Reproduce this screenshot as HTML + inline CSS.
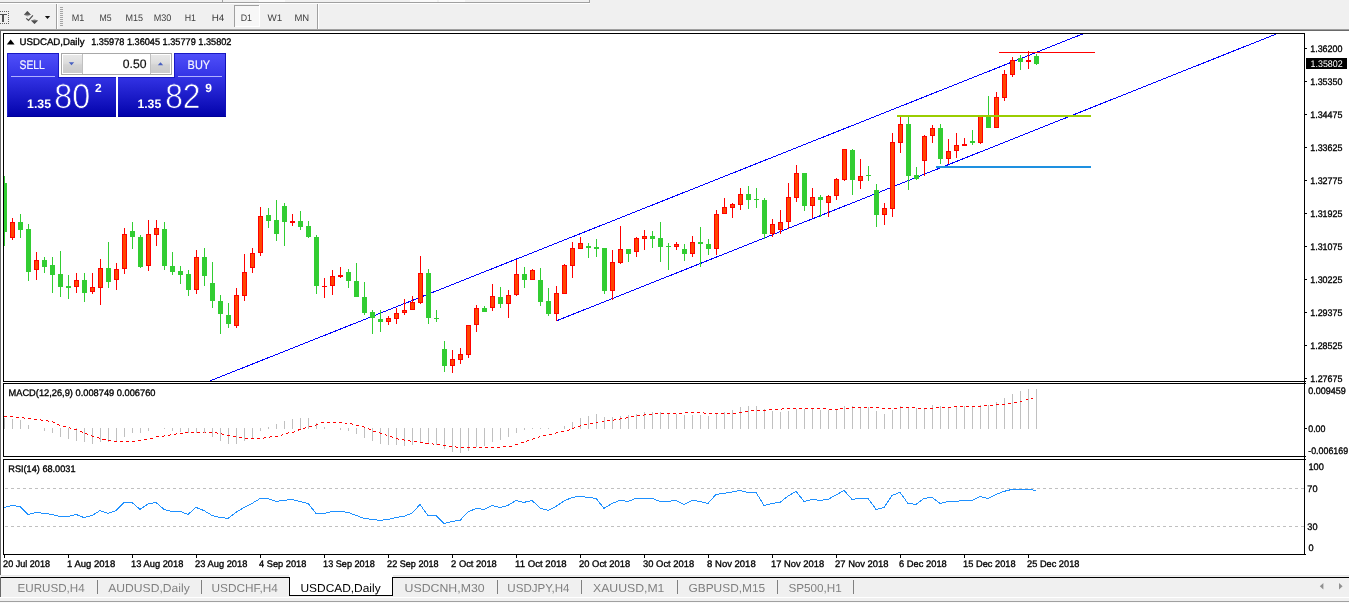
<!DOCTYPE html>
<html><head><meta charset="utf-8"><title>USDCAD,Daily</title>
<style>html,body{margin:0;padding:0;background:#fff;overflow:hidden}svg{display:block}</style>
</head><body>
<svg width="1349" height="603" viewBox="0 0 1349 603" font-family="'Liberation Sans', 'DejaVu Sans', sans-serif" text-rendering="geometricPrecision">
<defs>
<linearGradient id="gb" gradientUnits="userSpaceOnUse" x1="0" y1="53" x2="0" y2="117"><stop offset="0" stop-color="#5050fa"/><stop offset="0.36" stop-color="#3434e6"/><stop offset="1" stop-color="#0202aa"/></linearGradient>
<linearGradient id="gs" x1="0" y1="0" x2="0" y2="1"><stop offset="0" stop-color="#e8e8e8"/><stop offset="0.45" stop-color="#dddddd"/><stop offset="0.55" stop-color="#d3d3d3"/><stop offset="1" stop-color="#cacaca"/></linearGradient>
<clipPath id="cm"><rect x="4" y="34" width="1300" height="347"/></clipPath>
</defs>
<rect x="0" y="0" width="1349" height="603" fill="#ffffff"/>
<rect x="0" y="0" width="1349" height="29" fill="#f0f0f0"/>
<rect x="0" y="2" width="590" height="1" fill="#a0a0a0"/>
<rect x="0" y="3" width="590" height="1" fill="#ffffff"/>
<rect x="589" y="0" width="1" height="3" fill="#a0a0a0"/>
<rect x="222" y="0" width="1" height="2" fill="#a0a0a0"/>
<rect x="259" y="0" width="26" height="2" fill="#fafafa"/>
<rect x="410" y="0" width="27" height="2" fill="#fafafa"/>
<rect x="439" y="0" width="26" height="2" fill="#fafafa"/>
<rect x="0" y="29" width="1349" height="1" fill="#a0a0a0"/>
<rect x="0" y="30" width="1349" height="1" fill="#696969"/>
<rect x="0" y="31" width="1" height="546" fill="#696969"/>
<rect x="56" y="4" width="1" height="25" fill="#a0a0a0"/>
<rect x="57" y="4" width="1" height="25" fill="#ffffff"/>
<rect x="60" y="7" width="3" height="1" fill="#a4a4a4"/>
<rect x="60" y="9" width="3" height="1" fill="#a4a4a4"/>
<rect x="60" y="11" width="3" height="1" fill="#a4a4a4"/>
<rect x="60" y="13" width="3" height="1" fill="#a4a4a4"/>
<rect x="60" y="15" width="3" height="1" fill="#a4a4a4"/>
<rect x="60" y="17" width="3" height="1" fill="#a4a4a4"/>
<rect x="60" y="19" width="3" height="1" fill="#a4a4a4"/>
<rect x="60" y="21" width="3" height="1" fill="#a4a4a4"/>
<rect x="60" y="23" width="3" height="1" fill="#a4a4a4"/>
<rect x="60" y="25" width="3" height="1" fill="#a4a4a4"/>
<rect x="317" y="4" width="1" height="25" fill="#a0a0a0"/>
<rect x="318" y="4" width="1" height="25" fill="#ffffff"/>
<g shape-rendering="crispEdges">
<rect x="0" y="14" width="7" height="1" fill="#505050"/>
<rect x="2" y="14" width="2" height="8" fill="#505050"/>
<rect x="0" y="11" width="1" height="1" fill="#606060"/>
<rect x="0" y="23" width="1" height="1" fill="#606060"/>
<rect x="2" y="11" width="1" height="1" fill="#606060"/>
<rect x="2" y="23" width="1" height="1" fill="#606060"/>
<rect x="4" y="11" width="1" height="1" fill="#606060"/>
<rect x="4" y="23" width="1" height="1" fill="#606060"/>
<rect x="6" y="11" width="1" height="1" fill="#606060"/>
<rect x="6" y="23" width="1" height="1" fill="#606060"/>
<rect x="8" y="11" width="1" height="1" fill="#606060"/>
<rect x="8" y="23" width="1" height="1" fill="#606060"/>
<rect x="8" y="13" width="1" height="1" fill="#606060"/>
<rect x="8" y="15" width="1" height="1" fill="#606060"/>
<rect x="8" y="17" width="1" height="1" fill="#606060"/>
<rect x="8" y="19" width="1" height="1" fill="#606060"/>
<rect x="8" y="21" width="1" height="1" fill="#606060"/>
</g>
<path d="M27.4 11 L30.9 14.8 L27.4 16.4 L23.9 14.8Z" fill="#a0a0a0"/>
<path d="M27.4 11 L30.9 14.8 L23.9 14.8Z" fill="#505050"/>
<path d="M34.5 23.9 L38 20.4 L34.5 19.2 L31 20.4Z" fill="#a0a0a0"/>
<path d="M34.5 23.9 L38 20.4 L31 20.4Z" fill="#505050"/>
<path d="M26.2 18.4 L28.5 20.3 L32.9 15.3" fill="none" stroke="#505050" stroke-width="1.2"/>
<path d="M44.9 16 L50.1 16 L47.5 19Z" fill="#101010"/>
<rect x="234" y="5" width="26" height="22" fill="#f7f7f7"/>
<rect x="234" y="5" width="25" height="1" fill="#a0a0a0"/>
<rect x="234" y="5" width="1" height="22" fill="#a0a0a0"/>
<rect x="259" y="5" width="1" height="22" fill="#ffffff"/>
<rect x="235" y="26" width="25" height="1" fill="#ffffff"/>
<text x="71.8" y="20.6" font-size="9.52" fill="#404040" textLength="12.6" lengthAdjust="spacingAndGlyphs">M1</text>
<text x="99.5" y="20.6" font-size="9.52" fill="#404040" textLength="12.1" lengthAdjust="spacingAndGlyphs">M5</text>
<text x="125.5" y="20.6" font-size="9.52" fill="#404040" textLength="17.6" lengthAdjust="spacingAndGlyphs">M15</text>
<text x="153.7" y="20.6" font-size="9.52" fill="#404040" textLength="17.7" lengthAdjust="spacingAndGlyphs">M30</text>
<text x="184.7" y="20.6" font-size="9.52" fill="#404040" textLength="11.3" lengthAdjust="spacingAndGlyphs">H1</text>
<text x="211.7" y="20.6" font-size="9.52" fill="#404040" textLength="12.6" lengthAdjust="spacingAndGlyphs">H4</text>
<text x="240.7" y="20.6" font-size="9.52" fill="#404040" textLength="11.3" lengthAdjust="spacingAndGlyphs">D1</text>
<text x="267.6" y="20.6" font-size="9.52" fill="#404040" textLength="14.7" lengthAdjust="spacingAndGlyphs">W1</text>
<text x="294.4" y="20.6" font-size="9.52" fill="#404040" textLength="14.8" lengthAdjust="spacingAndGlyphs">MN</text>
<g shape-rendering="crispEdges">
<rect x="3" y="33" width="1302" height="1" fill="#000"/>
<rect x="3" y="33" width="1" height="349" fill="#000"/>
<rect x="3" y="381" width="1302" height="1" fill="#000"/>
<rect x="1304" y="33" width="1" height="522" fill="#000"/>
<rect x="1305" y="381" width="1" height="1" fill="#000"/>
<rect x="1305" y="383" width="1" height="1" fill="#000"/>
<rect x="1305" y="456" width="1" height="1" fill="#000"/>
<rect x="1305" y="459" width="1" height="1" fill="#000"/>
<rect x="1305" y="554" width="1" height="1" fill="#000"/>
<rect x="3" y="383" width="1302" height="1" fill="#000"/>
<rect x="3" y="383" width="1" height="74" fill="#000"/>
<rect x="3" y="456" width="1302" height="1" fill="#000"/>
<rect x="3" y="459" width="1302" height="1" fill="#000"/>
<rect x="3" y="459" width="1" height="96" fill="#000"/>
<rect x="3" y="554" width="1302" height="1" fill="#000"/>
</g>
<g clip-path="url(#cm)" shape-rendering="crispEdges">
<line x1="209" y1="381.3" x2="1082.5" y2="34" stroke="#0000ff" stroke-width="1"/>
<line x1="556" y1="321" x2="1277.5" y2="33.5" stroke="#0000ff" stroke-width="1"/>
<rect x="999" y="52" width="96" height="1" fill="#ff0000"/>
<rect x="936" y="166" width="155" height="2" fill="#1e90e0"/>
<rect x="4" y="176" width="1" height="70" fill="#32cd32"/>
<rect x="2" y="183" width="5" height="49" fill="#32cd32"/>
<rect x="12" y="218" width="1" height="22" fill="#ff0000"/>
<rect x="10" y="222" width="5" height="16" fill="#ff0000"/>
<rect x="11" y="223" width="3" height="14" fill="#ff4500"/>
<rect x="20" y="214" width="1" height="24" fill="#32cd32"/>
<rect x="18" y="222" width="5" height="8" fill="#32cd32"/>
<rect x="28" y="224" width="1" height="57" fill="#32cd32"/>
<rect x="26" y="229" width="5" height="43" fill="#32cd32"/>
<rect x="36" y="252" width="1" height="28" fill="#ff0000"/>
<rect x="34" y="260" width="5" height="10" fill="#ff0000"/>
<rect x="35" y="261" width="3" height="8" fill="#ff4500"/>
<rect x="44" y="257" width="1" height="16" fill="#32cd32"/>
<rect x="42" y="260" width="5" height="7" fill="#32cd32"/>
<rect x="52" y="257" width="1" height="36" fill="#32cd32"/>
<rect x="50" y="265" width="5" height="10" fill="#32cd32"/>
<rect x="60" y="251" width="1" height="46" fill="#32cd32"/>
<rect x="58" y="274" width="5" height="13" fill="#32cd32"/>
<rect x="68" y="275" width="1" height="24" fill="#32cd32"/>
<rect x="66" y="286" width="5" height="2" fill="#32cd32"/>
<rect x="76" y="273" width="1" height="20" fill="#ff0000"/>
<rect x="74" y="280" width="5" height="7" fill="#ff0000"/>
<rect x="75" y="281" width="3" height="5" fill="#ff4500"/>
<rect x="84" y="273" width="1" height="29" fill="#32cd32"/>
<rect x="82" y="280" width="5" height="13" fill="#32cd32"/>
<rect x="92" y="273" width="1" height="21" fill="#ff0000"/>
<rect x="90" y="287" width="5" height="5" fill="#ff0000"/>
<rect x="91" y="288" width="3" height="3" fill="#ff4500"/>
<rect x="100" y="259" width="1" height="46" fill="#ff0000"/>
<rect x="98" y="268" width="5" height="20" fill="#ff0000"/>
<rect x="99" y="269" width="3" height="18" fill="#ff4500"/>
<rect x="108" y="242" width="1" height="46" fill="#32cd32"/>
<rect x="106" y="268" width="5" height="14" fill="#32cd32"/>
<rect x="116" y="263" width="1" height="27" fill="#ff0000"/>
<rect x="114" y="269" width="5" height="11" fill="#ff0000"/>
<rect x="115" y="270" width="3" height="9" fill="#ff4500"/>
<rect x="124" y="228" width="1" height="46" fill="#ff0000"/>
<rect x="122" y="234" width="5" height="35" fill="#ff0000"/>
<rect x="123" y="235" width="3" height="33" fill="#ff4500"/>
<rect x="132" y="222" width="1" height="27" fill="#32cd32"/>
<rect x="130" y="231" width="5" height="6" fill="#32cd32"/>
<rect x="140" y="235" width="1" height="33" fill="#32cd32"/>
<rect x="138" y="237" width="5" height="30" fill="#32cd32"/>
<rect x="148" y="220" width="1" height="51" fill="#ff0000"/>
<rect x="146" y="234" width="5" height="32" fill="#ff0000"/>
<rect x="147" y="235" width="3" height="30" fill="#ff4500"/>
<rect x="156" y="220" width="1" height="26" fill="#ff0000"/>
<rect x="154" y="228" width="5" height="7" fill="#ff0000"/>
<rect x="155" y="229" width="3" height="5" fill="#ff4500"/>
<rect x="164" y="222" width="1" height="48" fill="#32cd32"/>
<rect x="162" y="229" width="5" height="37" fill="#32cd32"/>
<rect x="172" y="252" width="1" height="23" fill="#32cd32"/>
<rect x="170" y="266" width="5" height="6" fill="#32cd32"/>
<rect x="180" y="266" width="1" height="18" fill="#32cd32"/>
<rect x="178" y="271" width="5" height="4" fill="#32cd32"/>
<rect x="188" y="270" width="1" height="26" fill="#32cd32"/>
<rect x="186" y="274" width="5" height="16" fill="#32cd32"/>
<rect x="196" y="250" width="1" height="44" fill="#ff0000"/>
<rect x="194" y="257" width="5" height="33" fill="#ff0000"/>
<rect x="195" y="258" width="3" height="31" fill="#ff4500"/>
<rect x="204" y="248" width="1" height="38" fill="#32cd32"/>
<rect x="202" y="257" width="5" height="19" fill="#32cd32"/>
<rect x="212" y="262" width="1" height="46" fill="#32cd32"/>
<rect x="210" y="283" width="5" height="18" fill="#32cd32"/>
<rect x="220" y="295" width="1" height="39" fill="#32cd32"/>
<rect x="218" y="301" width="5" height="13" fill="#32cd32"/>
<rect x="228" y="303" width="1" height="25" fill="#32cd32"/>
<rect x="226" y="315" width="5" height="9" fill="#32cd32"/>
<rect x="236" y="288" width="1" height="40" fill="#ff0000"/>
<rect x="234" y="295" width="5" height="31" fill="#ff0000"/>
<rect x="235" y="296" width="3" height="29" fill="#ff4500"/>
<rect x="244" y="254" width="1" height="47" fill="#ff0000"/>
<rect x="242" y="272" width="5" height="24" fill="#ff0000"/>
<rect x="243" y="273" width="3" height="22" fill="#ff4500"/>
<rect x="252" y="248" width="1" height="25" fill="#ff0000"/>
<rect x="250" y="253" width="5" height="15" fill="#ff0000"/>
<rect x="251" y="254" width="3" height="13" fill="#ff4500"/>
<rect x="260" y="207" width="1" height="49" fill="#ff0000"/>
<rect x="258" y="216" width="5" height="37" fill="#ff0000"/>
<rect x="259" y="217" width="3" height="35" fill="#ff4500"/>
<rect x="268" y="208" width="1" height="20" fill="#32cd32"/>
<rect x="266" y="215" width="5" height="6" fill="#32cd32"/>
<rect x="276" y="200" width="1" height="41" fill="#32cd32"/>
<rect x="274" y="220" width="5" height="14" fill="#32cd32"/>
<rect x="284" y="203" width="1" height="43" fill="#32cd32"/>
<rect x="282" y="206" width="5" height="16" fill="#32cd32"/>
<rect x="292" y="214" width="1" height="12" fill="#ff0000"/>
<rect x="290" y="221" width="5" height="2" fill="#ff0000"/>
<rect x="300" y="211" width="1" height="19" fill="#32cd32"/>
<rect x="298" y="221" width="5" height="6" fill="#32cd32"/>
<rect x="308" y="221" width="1" height="17" fill="#32cd32"/>
<rect x="306" y="226" width="5" height="11" fill="#32cd32"/>
<rect x="316" y="235" width="1" height="59" fill="#32cd32"/>
<rect x="314" y="237" width="5" height="49" fill="#32cd32"/>
<rect x="324" y="278" width="1" height="20" fill="#ff0000"/>
<rect x="322" y="286" width="5" height="1" fill="#ff0000"/>
<rect x="332" y="270" width="1" height="25" fill="#ff0000"/>
<rect x="330" y="276" width="5" height="10" fill="#ff0000"/>
<rect x="331" y="277" width="3" height="8" fill="#ff4500"/>
<rect x="340" y="267" width="1" height="11" fill="#ff0000"/>
<rect x="338" y="275" width="5" height="2" fill="#ff0000"/>
<rect x="348" y="269" width="1" height="19" fill="#32cd32"/>
<rect x="346" y="272" width="5" height="9" fill="#32cd32"/>
<rect x="356" y="263" width="1" height="34" fill="#32cd32"/>
<rect x="354" y="281" width="5" height="16" fill="#32cd32"/>
<rect x="364" y="282" width="1" height="33" fill="#32cd32"/>
<rect x="362" y="297" width="5" height="16" fill="#32cd32"/>
<rect x="372" y="310" width="1" height="24" fill="#32cd32"/>
<rect x="370" y="312" width="5" height="6" fill="#32cd32"/>
<rect x="380" y="310" width="1" height="22" fill="#32cd32"/>
<rect x="378" y="319" width="5" height="3" fill="#32cd32"/>
<rect x="388" y="316" width="1" height="9" fill="#ff0000"/>
<rect x="386" y="318" width="5" height="4" fill="#ff0000"/>
<rect x="387" y="319" width="3" height="2" fill="#ff4500"/>
<rect x="396" y="308" width="1" height="16" fill="#ff0000"/>
<rect x="394" y="313" width="5" height="6" fill="#ff0000"/>
<rect x="395" y="314" width="3" height="4" fill="#ff4500"/>
<rect x="404" y="299" width="1" height="16" fill="#ff0000"/>
<rect x="402" y="310" width="5" height="3" fill="#ff0000"/>
<rect x="403" y="311" width="3" height="1" fill="#ff4500"/>
<rect x="412" y="296" width="1" height="14" fill="#ff0000"/>
<rect x="410" y="302" width="5" height="8" fill="#ff0000"/>
<rect x="411" y="303" width="3" height="6" fill="#ff4500"/>
<rect x="420" y="256" width="1" height="48" fill="#ff0000"/>
<rect x="418" y="273" width="5" height="30" fill="#ff0000"/>
<rect x="419" y="274" width="3" height="28" fill="#ff4500"/>
<rect x="428" y="269" width="1" height="55" fill="#32cd32"/>
<rect x="426" y="273" width="5" height="45" fill="#32cd32"/>
<rect x="436" y="310" width="1" height="12" fill="#32cd32"/>
<rect x="434" y="318" width="5" height="1" fill="#32cd32"/>
<rect x="444" y="341" width="1" height="31" fill="#32cd32"/>
<rect x="442" y="349" width="5" height="17" fill="#32cd32"/>
<rect x="452" y="350" width="1" height="23" fill="#ff0000"/>
<rect x="450" y="359" width="5" height="7" fill="#ff0000"/>
<rect x="451" y="360" width="3" height="5" fill="#ff4500"/>
<rect x="460" y="348" width="1" height="16" fill="#ff0000"/>
<rect x="458" y="354" width="5" height="6" fill="#ff0000"/>
<rect x="459" y="355" width="3" height="4" fill="#ff4500"/>
<rect x="468" y="325" width="1" height="33" fill="#ff0000"/>
<rect x="466" y="325" width="5" height="30" fill="#ff0000"/>
<rect x="467" y="326" width="3" height="28" fill="#ff4500"/>
<rect x="476" y="305" width="1" height="27" fill="#ff0000"/>
<rect x="474" y="308" width="5" height="17" fill="#ff0000"/>
<rect x="475" y="309" width="3" height="15" fill="#ff4500"/>
<rect x="484" y="306" width="1" height="6" fill="#32cd32"/>
<rect x="482" y="308" width="5" height="4" fill="#32cd32"/>
<rect x="492" y="284" width="1" height="27" fill="#ff0000"/>
<rect x="490" y="296" width="5" height="12" fill="#ff0000"/>
<rect x="491" y="297" width="3" height="10" fill="#ff4500"/>
<rect x="500" y="287" width="1" height="21" fill="#32cd32"/>
<rect x="498" y="297" width="5" height="7" fill="#32cd32"/>
<rect x="508" y="290" width="1" height="28" fill="#ff0000"/>
<rect x="506" y="295" width="5" height="9" fill="#ff0000"/>
<rect x="507" y="296" width="3" height="7" fill="#ff4500"/>
<rect x="516" y="260" width="1" height="36" fill="#ff0000"/>
<rect x="514" y="274" width="5" height="21" fill="#ff0000"/>
<rect x="515" y="275" width="3" height="19" fill="#ff4500"/>
<rect x="524" y="267" width="1" height="21" fill="#32cd32"/>
<rect x="522" y="274" width="5" height="6" fill="#32cd32"/>
<rect x="532" y="269" width="1" height="11" fill="#ff0000"/>
<rect x="530" y="270" width="5" height="10" fill="#ff0000"/>
<rect x="531" y="271" width="3" height="8" fill="#ff4500"/>
<rect x="540" y="268" width="1" height="38" fill="#32cd32"/>
<rect x="538" y="280" width="5" height="22" fill="#32cd32"/>
<rect x="548" y="288" width="1" height="28" fill="#32cd32"/>
<rect x="546" y="301" width="5" height="13" fill="#32cd32"/>
<rect x="556" y="286" width="1" height="35" fill="#ff0000"/>
<rect x="554" y="293" width="5" height="21" fill="#ff0000"/>
<rect x="555" y="294" width="3" height="19" fill="#ff4500"/>
<rect x="564" y="264" width="1" height="30" fill="#ff0000"/>
<rect x="562" y="265" width="5" height="29" fill="#ff0000"/>
<rect x="563" y="266" width="3" height="27" fill="#ff4500"/>
<rect x="572" y="242" width="1" height="36" fill="#ff0000"/>
<rect x="570" y="248" width="5" height="18" fill="#ff0000"/>
<rect x="571" y="249" width="3" height="16" fill="#ff4500"/>
<rect x="580" y="237" width="1" height="12" fill="#ff0000"/>
<rect x="578" y="243" width="5" height="6" fill="#ff0000"/>
<rect x="579" y="244" width="3" height="4" fill="#ff4500"/>
<rect x="588" y="243" width="1" height="15" fill="#32cd32"/>
<rect x="586" y="246" width="5" height="2" fill="#32cd32"/>
<rect x="596" y="239" width="1" height="18" fill="#32cd32"/>
<rect x="594" y="247" width="5" height="2" fill="#32cd32"/>
<rect x="604" y="248" width="1" height="46" fill="#32cd32"/>
<rect x="602" y="248" width="5" height="43" fill="#32cd32"/>
<rect x="612" y="250" width="1" height="50" fill="#ff0000"/>
<rect x="610" y="262" width="5" height="29" fill="#ff0000"/>
<rect x="611" y="263" width="3" height="27" fill="#ff4500"/>
<rect x="620" y="226" width="1" height="38" fill="#ff0000"/>
<rect x="618" y="249" width="5" height="14" fill="#ff0000"/>
<rect x="619" y="250" width="3" height="12" fill="#ff4500"/>
<rect x="628" y="249" width="1" height="13" fill="#32cd32"/>
<rect x="626" y="249" width="5" height="5" fill="#32cd32"/>
<rect x="636" y="237" width="1" height="20" fill="#ff0000"/>
<rect x="634" y="238" width="5" height="14" fill="#ff0000"/>
<rect x="635" y="239" width="3" height="12" fill="#ff4500"/>
<rect x="644" y="230" width="1" height="20" fill="#ff0000"/>
<rect x="642" y="236" width="5" height="3" fill="#ff0000"/>
<rect x="643" y="237" width="3" height="1" fill="#ff4500"/>
<rect x="652" y="231" width="1" height="17" fill="#32cd32"/>
<rect x="650" y="236" width="5" height="3" fill="#32cd32"/>
<rect x="660" y="222" width="1" height="40" fill="#32cd32"/>
<rect x="658" y="238" width="5" height="9" fill="#32cd32"/>
<rect x="668" y="243" width="1" height="27" fill="#32cd32"/>
<rect x="666" y="246" width="5" height="1" fill="#32cd32"/>
<rect x="676" y="242" width="1" height="8" fill="#ff0000"/>
<rect x="674" y="244" width="5" height="3" fill="#ff0000"/>
<rect x="675" y="245" width="3" height="1" fill="#ff4500"/>
<rect x="684" y="244" width="1" height="17" fill="#32cd32"/>
<rect x="682" y="249" width="5" height="5" fill="#32cd32"/>
<rect x="692" y="236" width="1" height="21" fill="#ff0000"/>
<rect x="690" y="242" width="5" height="12" fill="#ff0000"/>
<rect x="691" y="243" width="3" height="10" fill="#ff4500"/>
<rect x="700" y="227" width="1" height="40" fill="#32cd32"/>
<rect x="698" y="242" width="5" height="2" fill="#32cd32"/>
<rect x="708" y="239" width="1" height="16" fill="#32cd32"/>
<rect x="706" y="244" width="5" height="5" fill="#32cd32"/>
<rect x="716" y="210" width="1" height="45" fill="#ff0000"/>
<rect x="714" y="214" width="5" height="35" fill="#ff0000"/>
<rect x="715" y="215" width="3" height="33" fill="#ff4500"/>
<rect x="724" y="198" width="1" height="16" fill="#ff0000"/>
<rect x="722" y="207" width="5" height="7" fill="#ff0000"/>
<rect x="723" y="208" width="3" height="5" fill="#ff4500"/>
<rect x="732" y="203" width="1" height="15" fill="#ff0000"/>
<rect x="730" y="204" width="5" height="4" fill="#ff0000"/>
<rect x="731" y="205" width="3" height="2" fill="#ff4500"/>
<rect x="740" y="188" width="1" height="22" fill="#ff0000"/>
<rect x="738" y="194" width="5" height="11" fill="#ff0000"/>
<rect x="739" y="195" width="3" height="9" fill="#ff4500"/>
<rect x="748" y="186" width="1" height="23" fill="#32cd32"/>
<rect x="746" y="194" width="5" height="6" fill="#32cd32"/>
<rect x="756" y="188" width="1" height="20" fill="#32cd32"/>
<rect x="754" y="199" width="5" height="1" fill="#32cd32"/>
<rect x="764" y="198" width="1" height="41" fill="#32cd32"/>
<rect x="762" y="200" width="5" height="34" fill="#32cd32"/>
<rect x="772" y="219" width="1" height="18" fill="#ff0000"/>
<rect x="770" y="224" width="5" height="10" fill="#ff0000"/>
<rect x="771" y="225" width="3" height="8" fill="#ff4500"/>
<rect x="780" y="210" width="1" height="24" fill="#ff0000"/>
<rect x="778" y="222" width="5" height="8" fill="#ff0000"/>
<rect x="779" y="223" width="3" height="6" fill="#ff4500"/>
<rect x="788" y="183" width="1" height="46" fill="#ff0000"/>
<rect x="786" y="197" width="5" height="25" fill="#ff0000"/>
<rect x="787" y="198" width="3" height="23" fill="#ff4500"/>
<rect x="796" y="165" width="1" height="37" fill="#ff0000"/>
<rect x="794" y="173" width="5" height="25" fill="#ff0000"/>
<rect x="795" y="174" width="3" height="23" fill="#ff4500"/>
<rect x="804" y="173" width="1" height="38" fill="#32cd32"/>
<rect x="802" y="173" width="5" height="33" fill="#32cd32"/>
<rect x="812" y="188" width="1" height="30" fill="#ff0000"/>
<rect x="810" y="197" width="5" height="9" fill="#ff0000"/>
<rect x="811" y="198" width="3" height="7" fill="#ff4500"/>
<rect x="820" y="195" width="1" height="22" fill="#32cd32"/>
<rect x="818" y="197" width="5" height="3" fill="#32cd32"/>
<rect x="828" y="195" width="1" height="22" fill="#ff0000"/>
<rect x="826" y="196" width="5" height="7" fill="#ff0000"/>
<rect x="827" y="197" width="3" height="5" fill="#ff4500"/>
<rect x="836" y="178" width="1" height="22" fill="#ff0000"/>
<rect x="834" y="179" width="5" height="17" fill="#ff0000"/>
<rect x="835" y="180" width="3" height="15" fill="#ff4500"/>
<rect x="844" y="149" width="1" height="32" fill="#ff0000"/>
<rect x="842" y="149" width="5" height="31" fill="#ff0000"/>
<rect x="843" y="150" width="3" height="29" fill="#ff4500"/>
<rect x="852" y="149" width="1" height="46" fill="#32cd32"/>
<rect x="850" y="150" width="5" height="30" fill="#32cd32"/>
<rect x="860" y="159" width="1" height="30" fill="#ff0000"/>
<rect x="858" y="176" width="5" height="5" fill="#ff0000"/>
<rect x="859" y="177" width="3" height="3" fill="#ff4500"/>
<rect x="868" y="166" width="1" height="15" fill="#32cd32"/>
<rect x="866" y="175" width="5" height="1" fill="#32cd32"/>
<rect x="876" y="184" width="1" height="43" fill="#32cd32"/>
<rect x="874" y="190" width="5" height="25" fill="#32cd32"/>
<rect x="884" y="203" width="1" height="22" fill="#ff0000"/>
<rect x="882" y="208" width="5" height="7" fill="#ff0000"/>
<rect x="883" y="209" width="3" height="5" fill="#ff4500"/>
<rect x="892" y="133" width="1" height="84" fill="#ff0000"/>
<rect x="890" y="142" width="5" height="67" fill="#ff0000"/>
<rect x="891" y="143" width="3" height="65" fill="#ff4500"/>
<rect x="900" y="116" width="1" height="37" fill="#ff0000"/>
<rect x="898" y="124" width="5" height="19" fill="#ff0000"/>
<rect x="899" y="125" width="3" height="17" fill="#ff4500"/>
<rect x="908" y="116" width="1" height="74" fill="#32cd32"/>
<rect x="906" y="124" width="5" height="52" fill="#32cd32"/>
<rect x="916" y="167" width="1" height="13" fill="#32cd32"/>
<rect x="914" y="175" width="5" height="4" fill="#32cd32"/>
<rect x="924" y="135" width="1" height="41" fill="#ff0000"/>
<rect x="922" y="136" width="5" height="25" fill="#ff0000"/>
<rect x="923" y="137" width="3" height="23" fill="#ff4500"/>
<rect x="932" y="125" width="1" height="18" fill="#ff0000"/>
<rect x="930" y="128" width="5" height="8" fill="#ff0000"/>
<rect x="931" y="129" width="3" height="6" fill="#ff4500"/>
<rect x="940" y="124" width="1" height="40" fill="#32cd32"/>
<rect x="938" y="128" width="5" height="31" fill="#32cd32"/>
<rect x="948" y="139" width="1" height="25" fill="#ff0000"/>
<rect x="946" y="151" width="5" height="8" fill="#ff0000"/>
<rect x="947" y="152" width="3" height="6" fill="#ff4500"/>
<rect x="956" y="133" width="1" height="25" fill="#ff0000"/>
<rect x="954" y="145" width="5" height="6" fill="#ff0000"/>
<rect x="955" y="146" width="3" height="4" fill="#ff4500"/>
<rect x="964" y="138" width="1" height="8" fill="#ff0000"/>
<rect x="962" y="144" width="5" height="2" fill="#ff0000"/>
<rect x="972" y="130" width="1" height="15" fill="#32cd32"/>
<rect x="970" y="141" width="5" height="2" fill="#32cd32"/>
<rect x="980" y="115" width="1" height="29" fill="#ff0000"/>
<rect x="978" y="116" width="5" height="27" fill="#ff0000"/>
<rect x="979" y="117" width="3" height="25" fill="#ff4500"/>
<rect x="988" y="96" width="1" height="32" fill="#32cd32"/>
<rect x="986" y="116" width="5" height="12" fill="#32cd32"/>
<rect x="996" y="92" width="1" height="36" fill="#ff0000"/>
<rect x="994" y="97" width="5" height="31" fill="#ff0000"/>
<rect x="995" y="98" width="3" height="29" fill="#ff4500"/>
<rect x="1004" y="70" width="1" height="31" fill="#ff0000"/>
<rect x="1002" y="74" width="5" height="24" fill="#ff0000"/>
<rect x="1003" y="75" width="3" height="22" fill="#ff4500"/>
<rect x="1012" y="57" width="1" height="20" fill="#ff0000"/>
<rect x="1010" y="60" width="5" height="15" fill="#ff0000"/>
<rect x="1011" y="61" width="3" height="13" fill="#ff4500"/>
<rect x="1020" y="55" width="1" height="15" fill="#32cd32"/>
<rect x="1018" y="58" width="5" height="4" fill="#32cd32"/>
<rect x="1028" y="51" width="1" height="18" fill="#ff0000"/>
<rect x="1026" y="60" width="5" height="2" fill="#ff0000"/>
<rect x="1036" y="54" width="1" height="11" fill="#32cd32"/>
<rect x="1034" y="56" width="5" height="8" fill="#32cd32"/>
<rect x="897" y="115" width="194" height="2" fill="#9acd00"/>
</g>
<rect x="7" y="53" width="219" height="64" fill="url(#gb)"/>
<rect x="7" y="53" width="52" height="1" fill="#1818c4"/>
<rect x="174" y="53" width="52" height="1" fill="#1818c4"/>
<rect x="7" y="53" width="1" height="64" fill="#2020d0"/>
<rect x="225" y="53" width="1" height="64" fill="#1010b8"/>
<rect x="58" y="53" width="1" height="25" fill="#1818c4"/>
<rect x="174" y="53" width="1" height="25" fill="#1818c4"/>
<rect x="58" y="77" width="117" height="1" fill="#1818c4"/>
<rect x="7" y="116" width="219" height="1" fill="#000098"/>
<rect x="59" y="53" width="115" height="24" fill="#ffffff"/>
<rect x="116" y="77" width="2" height="40" fill="#ffffff"/>
<rect x="11" y="76" width="44" height="1" fill="#b0b0ff"/>
<rect x="178" y="76" width="44" height="1" fill="#b0b0ff"/>
<rect x="61.5" y="53.5" width="110" height="21" fill="#ffffff" stroke="#a8a8a8"/>
<rect x="63" y="55" width="19" height="18" fill="url(#gs)"/>
<rect x="151" y="55" width="19" height="18" fill="url(#gs)"/>
<rect x="82" y="54" width="1" height="20" fill="#c0c0c0"/>
<rect x="150" y="54" width="1" height="20" fill="#c0c0c0"/>
<path d="M68.8 62.2 L74.2 62.2 L71.5 65.2Z" fill="#4860c0"/>
<path d="M157.8 65.2 L163.2 65.2 L160.5 62.2Z" fill="#4860c0"/>
<text x="19.5" y="68.9" font-size="12.4" fill="#f4f4ff" textLength="25.3" lengthAdjust="spacingAndGlyphs" stroke="#f4f4ff" stroke-width="0.2">SELL</text>
<text x="187.6" y="68.9" font-size="12.4" fill="#f4f4ff" textLength="22.5" lengthAdjust="spacingAndGlyphs" stroke="#f4f4ff" stroke-width="0.2">BUY</text>
<text x="146.5" y="68.2" font-size="12.2" fill="#101010" text-anchor="end" stroke="#101010" stroke-width="0.2">0.50</text>
<text x="27.1" y="107.5" font-size="12.2" fill="#fff" textLength="24" lengthAdjust="spacingAndGlyphs" font-weight="bold">1.35</text>
<text x="54.25" y="107.9" font-size="34.6" fill="#fff" textLength="36" lengthAdjust="spacingAndGlyphs" stroke="url(#gb)" stroke-width="0.7">80</text>
<text x="95" y="92.3" font-size="12.0" fill="#fff" font-weight="bold">2</text>
<text x="137.4" y="107.5" font-size="12.2" fill="#fff" textLength="23.8" lengthAdjust="spacingAndGlyphs" font-weight="bold">1.35</text>
<text x="165.15" y="107.9" font-size="34.6" fill="#fff" textLength="35.4" lengthAdjust="spacingAndGlyphs" stroke="url(#gb)" stroke-width="0.7">82</text>
<text x="205.3" y="92.3" font-size="12.0" fill="#fff" font-weight="bold">9</text>
<path d="M6.8 44.4 L14.6 44.4 L10.7 39.6Z" fill="#000"/>
<text x="19.5" y="45" font-size="9.63" fill="#000" textLength="65" lengthAdjust="spacingAndGlyphs" stroke="#000" stroke-width="0.32">USDCAD,Daily</text>
<text x="91.2" y="45" font-size="9.63" fill="#000" textLength="140.3" lengthAdjust="spacingAndGlyphs" stroke="#000" stroke-width="0.32">1.35978 1.36045 1.35779 1.35802</text>
<g shape-rendering="crispEdges">
<rect x="1305" y="48" width="2" height="1" fill="#000"/>
<rect x="1305" y="81" width="2" height="1" fill="#000"/>
<rect x="1305" y="114" width="2" height="1" fill="#000"/>
<rect x="1305" y="147" width="2" height="1" fill="#000"/>
<rect x="1305" y="180" width="2" height="1" fill="#000"/>
<rect x="1305" y="213" width="2" height="1" fill="#000"/>
<rect x="1305" y="246" width="2" height="1" fill="#000"/>
<rect x="1305" y="279" width="2" height="1" fill="#000"/>
<rect x="1305" y="312" width="2" height="1" fill="#000"/>
<rect x="1305" y="345" width="2" height="1" fill="#000"/>
<rect x="1305" y="378" width="2" height="1" fill="#000"/>
</g>
<text x="1310.2" y="51.7" font-size="9.52" fill="#000" textLength="32.3" lengthAdjust="spacingAndGlyphs" stroke="#000" stroke-width="0.32">1.36200</text>
<text x="1310.2" y="84.7" font-size="9.52" fill="#000" textLength="32.3" lengthAdjust="spacingAndGlyphs" stroke="#000" stroke-width="0.32">1.35350</text>
<text x="1310.2" y="117.7" font-size="9.52" fill="#000" textLength="32.3" lengthAdjust="spacingAndGlyphs" stroke="#000" stroke-width="0.32">1.34475</text>
<text x="1310.2" y="150.7" font-size="9.52" fill="#000" textLength="32.3" lengthAdjust="spacingAndGlyphs" stroke="#000" stroke-width="0.32">1.33625</text>
<text x="1310.2" y="183.7" font-size="9.52" fill="#000" textLength="32.3" lengthAdjust="spacingAndGlyphs" stroke="#000" stroke-width="0.32">1.32775</text>
<text x="1310.2" y="216.7" font-size="9.52" fill="#000" textLength="32.3" lengthAdjust="spacingAndGlyphs" stroke="#000" stroke-width="0.32">1.31925</text>
<text x="1310.2" y="249.7" font-size="9.52" fill="#000" textLength="32.3" lengthAdjust="spacingAndGlyphs" stroke="#000" stroke-width="0.32">1.31075</text>
<text x="1310.2" y="282.7" font-size="9.52" fill="#000" textLength="32.3" lengthAdjust="spacingAndGlyphs" stroke="#000" stroke-width="0.32">1.30225</text>
<text x="1310.2" y="315.7" font-size="9.52" fill="#000" textLength="32.3" lengthAdjust="spacingAndGlyphs" stroke="#000" stroke-width="0.32">1.29375</text>
<text x="1310.2" y="348.7" font-size="9.52" fill="#000" textLength="32.3" lengthAdjust="spacingAndGlyphs" stroke="#000" stroke-width="0.32">1.28525</text>
<text x="1310.2" y="381.7" font-size="9.52" fill="#000" textLength="32.3" lengthAdjust="spacingAndGlyphs" stroke="#000" stroke-width="0.32">1.27675</text>
<rect x="1306" y="58" width="41" height="11" fill="#000"/>
<text x="1310.5" y="67" font-size="9.52" fill="#fff" textLength="32.2" lengthAdjust="spacingAndGlyphs">1.35802</text>
<g shape-rendering="crispEdges">
<rect x="12" y="419" width="1" height="10" fill="#c0c0c0"/>
<rect x="20" y="420" width="1" height="9" fill="#c0c0c0"/>
<rect x="28" y="425" width="1" height="4" fill="#c0c0c0"/>
<rect x="44" y="428" width="1" height="3" fill="#c0c0c0"/>
<rect x="52" y="428" width="1" height="5" fill="#c0c0c0"/>
<rect x="60" y="428" width="1" height="9" fill="#c0c0c0"/>
<rect x="68" y="428" width="1" height="11" fill="#c0c0c0"/>
<rect x="76" y="428" width="1" height="13" fill="#c0c0c0"/>
<rect x="84" y="428" width="1" height="14" fill="#c0c0c0"/>
<rect x="92" y="428" width="1" height="16" fill="#c0c0c0"/>
<rect x="100" y="428" width="1" height="14" fill="#c0c0c0"/>
<rect x="108" y="428" width="1" height="14" fill="#c0c0c0"/>
<rect x="116" y="428" width="1" height="13" fill="#c0c0c0"/>
<rect x="124" y="428" width="1" height="9" fill="#c0c0c0"/>
<rect x="132" y="428" width="1" height="5" fill="#c0c0c0"/>
<rect x="140" y="428" width="1" height="5" fill="#c0c0c0"/>
<rect x="148" y="428" width="1" height="3" fill="#c0c0c0"/>
<rect x="164" y="428" width="1" height="1" fill="#c0c0c0"/>
<rect x="172" y="428" width="1" height="3" fill="#c0c0c0"/>
<rect x="180" y="428" width="1" height="4" fill="#c0c0c0"/>
<rect x="188" y="428" width="1" height="5" fill="#c0c0c0"/>
<rect x="196" y="428" width="1" height="5" fill="#c0c0c0"/>
<rect x="204" y="428" width="1" height="5" fill="#c0c0c0"/>
<rect x="212" y="428" width="1" height="9" fill="#c0c0c0"/>
<rect x="220" y="428" width="1" height="13" fill="#c0c0c0"/>
<rect x="228" y="428" width="1" height="16" fill="#c0c0c0"/>
<rect x="236" y="428" width="1" height="16" fill="#c0c0c0"/>
<rect x="244" y="428" width="1" height="13" fill="#c0c0c0"/>
<rect x="252" y="428" width="1" height="10" fill="#c0c0c0"/>
<rect x="260" y="428" width="1" height="3" fill="#c0c0c0"/>
<rect x="268" y="427" width="1" height="2" fill="#c0c0c0"/>
<rect x="276" y="424" width="1" height="5" fill="#c0c0c0"/>
<rect x="284" y="421" width="1" height="8" fill="#c0c0c0"/>
<rect x="292" y="419" width="1" height="10" fill="#c0c0c0"/>
<rect x="300" y="418" width="1" height="11" fill="#c0c0c0"/>
<rect x="308" y="418" width="1" height="11" fill="#c0c0c0"/>
<rect x="316" y="423" width="1" height="6" fill="#c0c0c0"/>
<rect x="324" y="427" width="1" height="2" fill="#c0c0c0"/>
<rect x="340" y="428" width="1" height="2" fill="#c0c0c0"/>
<rect x="348" y="428" width="1" height="3" fill="#c0c0c0"/>
<rect x="356" y="428" width="1" height="6" fill="#c0c0c0"/>
<rect x="364" y="428" width="1" height="10" fill="#c0c0c0"/>
<rect x="372" y="428" width="1" height="13" fill="#c0c0c0"/>
<rect x="380" y="428" width="1" height="16" fill="#c0c0c0"/>
<rect x="388" y="428" width="1" height="17" fill="#c0c0c0"/>
<rect x="396" y="428" width="1" height="17" fill="#c0c0c0"/>
<rect x="404" y="428" width="1" height="18" fill="#c0c0c0"/>
<rect x="412" y="428" width="1" height="17" fill="#c0c0c0"/>
<rect x="420" y="428" width="1" height="14" fill="#c0c0c0"/>
<rect x="428" y="428" width="1" height="16" fill="#c0c0c0"/>
<rect x="436" y="428" width="1" height="17" fill="#c0c0c0"/>
<rect x="444" y="428" width="1" height="21" fill="#c0c0c0"/>
<rect x="452" y="428" width="1" height="24" fill="#c0c0c0"/>
<rect x="460" y="428" width="1" height="25" fill="#c0c0c0"/>
<rect x="468" y="428" width="1" height="23" fill="#c0c0c0"/>
<rect x="476" y="428" width="1" height="19" fill="#c0c0c0"/>
<rect x="484" y="428" width="1" height="18" fill="#c0c0c0"/>
<rect x="492" y="428" width="1" height="14" fill="#c0c0c0"/>
<rect x="500" y="428" width="1" height="12" fill="#c0c0c0"/>
<rect x="508" y="428" width="1" height="9" fill="#c0c0c0"/>
<rect x="516" y="428" width="1" height="5" fill="#c0c0c0"/>
<rect x="524" y="428" width="1" height="2" fill="#c0c0c0"/>
<rect x="532" y="428" width="1" height="1" fill="#c0c0c0"/>
<rect x="540" y="428" width="1" height="1" fill="#c0c0c0"/>
<rect x="548" y="428" width="1" height="1" fill="#c0c0c0"/>
<rect x="564" y="426" width="1" height="3" fill="#c0c0c0"/>
<rect x="572" y="422" width="1" height="7" fill="#c0c0c0"/>
<rect x="580" y="418" width="1" height="11" fill="#c0c0c0"/>
<rect x="588" y="416" width="1" height="13" fill="#c0c0c0"/>
<rect x="596" y="414" width="1" height="15" fill="#c0c0c0"/>
<rect x="604" y="417" width="1" height="12" fill="#c0c0c0"/>
<rect x="612" y="417" width="1" height="12" fill="#c0c0c0"/>
<rect x="620" y="416" width="1" height="13" fill="#c0c0c0"/>
<rect x="628" y="415" width="1" height="14" fill="#c0c0c0"/>
<rect x="636" y="414" width="1" height="15" fill="#c0c0c0"/>
<rect x="644" y="412" width="1" height="17" fill="#c0c0c0"/>
<rect x="652" y="412" width="1" height="17" fill="#c0c0c0"/>
<rect x="660" y="412" width="1" height="17" fill="#c0c0c0"/>
<rect x="668" y="413" width="1" height="16" fill="#c0c0c0"/>
<rect x="676" y="414" width="1" height="15" fill="#c0c0c0"/>
<rect x="684" y="415" width="1" height="14" fill="#c0c0c0"/>
<rect x="692" y="415" width="1" height="14" fill="#c0c0c0"/>
<rect x="700" y="415" width="1" height="14" fill="#c0c0c0"/>
<rect x="708" y="416" width="1" height="13" fill="#c0c0c0"/>
<rect x="716" y="414" width="1" height="15" fill="#c0c0c0"/>
<rect x="724" y="412" width="1" height="17" fill="#c0c0c0"/>
<rect x="732" y="410" width="1" height="19" fill="#c0c0c0"/>
<rect x="740" y="407" width="1" height="22" fill="#c0c0c0"/>
<rect x="748" y="406" width="1" height="23" fill="#c0c0c0"/>
<rect x="756" y="406" width="1" height="23" fill="#c0c0c0"/>
<rect x="764" y="409" width="1" height="20" fill="#c0c0c0"/>
<rect x="772" y="411" width="1" height="18" fill="#c0c0c0"/>
<rect x="780" y="412" width="1" height="17" fill="#c0c0c0"/>
<rect x="788" y="411" width="1" height="18" fill="#c0c0c0"/>
<rect x="796" y="409" width="1" height="20" fill="#c0c0c0"/>
<rect x="804" y="409" width="1" height="20" fill="#c0c0c0"/>
<rect x="812" y="409" width="1" height="20" fill="#c0c0c0"/>
<rect x="820" y="410" width="1" height="19" fill="#c0c0c0"/>
<rect x="828" y="410" width="1" height="19" fill="#c0c0c0"/>
<rect x="836" y="409" width="1" height="20" fill="#c0c0c0"/>
<rect x="844" y="406" width="1" height="23" fill="#c0c0c0"/>
<rect x="852" y="406" width="1" height="23" fill="#c0c0c0"/>
<rect x="860" y="407" width="1" height="22" fill="#c0c0c0"/>
<rect x="868" y="407" width="1" height="22" fill="#c0c0c0"/>
<rect x="876" y="411" width="1" height="18" fill="#c0c0c0"/>
<rect x="884" y="414" width="1" height="15" fill="#c0c0c0"/>
<rect x="892" y="410" width="1" height="19" fill="#c0c0c0"/>
<rect x="900" y="406" width="1" height="23" fill="#c0c0c0"/>
<rect x="908" y="407" width="1" height="22" fill="#c0c0c0"/>
<rect x="916" y="408" width="1" height="21" fill="#c0c0c0"/>
<rect x="924" y="408" width="1" height="21" fill="#c0c0c0"/>
<rect x="932" y="405" width="1" height="24" fill="#c0c0c0"/>
<rect x="940" y="406" width="1" height="23" fill="#c0c0c0"/>
<rect x="948" y="407" width="1" height="22" fill="#c0c0c0"/>
<rect x="956" y="407" width="1" height="22" fill="#c0c0c0"/>
<rect x="964" y="406" width="1" height="23" fill="#c0c0c0"/>
<rect x="972" y="406" width="1" height="23" fill="#c0c0c0"/>
<rect x="980" y="405" width="1" height="24" fill="#c0c0c0"/>
<rect x="988" y="405" width="1" height="24" fill="#c0c0c0"/>
<rect x="996" y="402" width="1" height="27" fill="#c0c0c0"/>
<rect x="1004" y="398" width="1" height="31" fill="#c0c0c0"/>
<rect x="1012" y="394" width="1" height="35" fill="#c0c0c0"/>
<rect x="1020" y="391" width="1" height="38" fill="#c0c0c0"/>
<rect x="1028" y="389" width="1" height="40" fill="#c0c0c0"/>
<rect x="1036" y="389" width="1" height="40" fill="#c0c0c0"/>
<rect x="4" y="418" width="1" height="11" fill="#c0c0c0"/>
</g>
<polyline points="4.0,416.4 12.0,416.4 18.0,417.4 28.0,418.4 36.0,419.4 44.0,420.4 52.0,421.6 60.0,425.4 68.0,427.4 76.0,429.4 84.0,433.0 92.0,436.0 100.0,438.4 108.0,440.4 116.0,441.6 124.0,441.6 132.0,441.2 140.0,440.6 148.0,439.4 156.0,437.0 164.0,436.0 172.0,434.6 180.0,433.4 188.0,432.4 196.0,432.0 204.0,432.0 212.0,432.2 220.0,433.4 228.0,435.4 236.0,437.0 244.0,438.0 252.0,439.0 262.0,438.4 268.0,437.2 276.0,436.4 282.0,435.0 288.0,433.0 294.0,432.0 300.0,429.4 308.0,427.0 316.0,425.0 322.0,422.6 332.0,422.4 342.0,422.6 348.0,423.4 354.0,424.4 360.0,426.0 366.0,427.6 372.0,430.6 378.0,432.4 384.0,434.4 390.0,436.0 396.0,438.6 404.0,440.0 412.0,441.4 420.0,442.4 428.0,443.4 436.0,444.4 444.0,445.6 452.0,446.6 460.0,447.4 468.0,447.4 476.0,447.4 484.0,447.4 492.0,447.4 500.0,447.4 504.0,446.6 512.0,446.0 520.0,443.6 520.0,443.4 526.0,441.4 532.0,439.4 538.0,437.4 544.0,435.6 550.0,434.4 556.0,433.0 562.0,431.6 568.0,430.6 574.0,428.0 580.0,426.0 586.0,424.4 592.0,423.4 598.0,422.0 604.0,421.0 612.0,420.4 620.0,419.0 628.0,417.6 636.0,416.2 644.0,415.0 652.0,414.0 660.0,413.4 676.0,413.4 688.0,412.6 700.0,412.6 708.0,413.4 720.0,413.4 732.0,413.4 740.0,412.6 748.0,411.4 756.0,410.4 764.0,410.4 772.0,409.4 780.0,409.2 780.0,409.2 788.0,408.4 820.0,408.4 828.0,409.2 838.0,409.2 842.0,408.4 860.0,407.6 878.0,407.4 882.0,408.4 898.0,408.4 904.0,407.4 912.0,407.4 918.0,408.4 932.0,408.4 938.0,407.4 948.0,407.4 960.0,406.6 980.0,406.4 986.0,405.4 996.0,405.0 1006.0,404.0 1012.0,403.0 1020.0,401.4 1026.0,400.0 1033.0,398.4" fill="none" stroke="#ff0000" stroke-width="1" stroke-dasharray="3 3" shape-rendering="crispEdges"/>
<text x="8.5" y="395.6" font-size="9.52" fill="#000" textLength="147" lengthAdjust="spacingAndGlyphs" stroke="#000" stroke-width="0.32">MACD(12,26,9) 0.008749 0.006760</text>
<text x="1308.2" y="394" font-size="9.52" fill="#000" textLength="37.6" lengthAdjust="spacingAndGlyphs" stroke="#000" stroke-width="0.32">0.009459</text>
<text x="1308.2" y="432" font-size="9.52" fill="#000" textLength="17.3" lengthAdjust="spacingAndGlyphs" stroke="#000" stroke-width="0.32">0.00</text>
<text x="1308.2" y="454" font-size="9.52" fill="#000" textLength="39.9" lengthAdjust="spacingAndGlyphs" stroke="#000" stroke-width="0.32">-0.006169</text>
<rect x="1305" y="428" width="2" height="1" fill="#000" shape-rendering="crispEdges"/>
<g shape-rendering="crispEdges">
<line x1="5" y1="488.5" x2="1304" y2="488.5" stroke="#c0c0c0" stroke-width="1" stroke-dasharray="3 3"/>
<line x1="5" y1="526.5" x2="1304" y2="526.5" stroke="#c0c0c0" stroke-width="1" stroke-dasharray="3 3"/>
</g>
<polyline points="4,507.4 12,505.4 20,506.6 28,514.4 36,512.4 44,513.4 52,514.4 60,516.4 68,516.4 76,514.4 84,517.6 92,515.6 100,510.6 108,513.4 116,510.6 124,502.4 132,502.4 140,509.4 148,504.0 156,502.4 164,509.4 172,511.4 180,511.4 188,514.4 196,507.4 204,510.6 212,515.4 220,517.4 228,518.4 236,512.4 244,507.4 252,503.4 260,498.6 268,498.6 276,501.4 284,500.4 292,499.4 300,501.4 308,503.4 316,513.4 324,513.4 332,511.4 340,511.4 348,512.4 356,515.4 364,518.4 372,519.4 380,520.4 388,519.4 396,517.4 404,516.4 412,513.0 420,504.6 428,515.4 436,515.4 444,523.4 452,521.4 460,520.4 468,512.0 476,508.4 484,509.4 492,505.4 500,507.4 508,505.4 516,500.4 524,502.4 532,500.4 540,508.0 548,510.4 556,506.4 564,501.0 572,497.4 580,496.4 588,497.4 596,498.4 604,508.4 612,503.4 620,500.4 628,501.4 636,498.4 644,498.4 652,498.4 660,501.4 668,501.4 676,500.4 684,504.4 692,500.4 700,501.4 708,503.4 716,494.4 724,493.4 732,492.0 740,490.4 748,492.4 756,492.4 764,505.4 772,503.4 780,502.4 788,496.0 796,491.4 804,501.4 812,499.4 820,500.4 828,499.4 836,495.0 844,490.4 852,499.4 860,498.4 868,498.4 876,509.4 884,507.4 892,495.4 900,492.4 908,503.4 916,504.4 924,498.4 932,497.4 940,503.4 948,501.4 956,501.4 964,500.4 972,500.4 980,496.4 988,498.4 996,494.4 1004,491.4 1012,489.4 1020,489.4 1028,489.4 1036,490.4" fill="none" stroke="#1e90ff" stroke-width="1" shape-rendering="crispEdges"/>
<text x="8.3" y="471.8" font-size="9.52" fill="#000" textLength="67.2" lengthAdjust="spacingAndGlyphs" stroke="#000" stroke-width="0.32">RSI(14) 68.0031</text>
<text x="1308.4" y="469.9" font-size="9.52" fill="#000" textLength="15.4" lengthAdjust="spacingAndGlyphs" stroke="#000" stroke-width="0.32">100</text>
<text x="1307.3" y="491.9" font-size="9.52" fill="#000" textLength="10.2" lengthAdjust="spacingAndGlyphs" stroke="#000" stroke-width="0.32">70</text>
<text x="1307.3" y="529.9" font-size="9.52" fill="#000" textLength="10.2" lengthAdjust="spacingAndGlyphs" stroke="#000" stroke-width="0.32">30</text>
<text x="1308.4" y="551.3" font-size="9.52" fill="#000" textLength="5.1" lengthAdjust="spacingAndGlyphs" stroke="#000" stroke-width="0.32">0</text>
<g shape-rendering="crispEdges">
<rect x="4" y="555" width="1" height="3" fill="#000"/>
<rect x="68" y="555" width="1" height="3" fill="#000"/>
<rect x="132" y="555" width="1" height="3" fill="#000"/>
<rect x="196" y="555" width="1" height="3" fill="#000"/>
<rect x="260" y="555" width="1" height="3" fill="#000"/>
<rect x="324" y="555" width="1" height="3" fill="#000"/>
<rect x="388" y="555" width="1" height="3" fill="#000"/>
<rect x="452" y="555" width="1" height="3" fill="#000"/>
<rect x="516" y="555" width="1" height="3" fill="#000"/>
<rect x="580" y="555" width="1" height="3" fill="#000"/>
<rect x="644" y="555" width="1" height="3" fill="#000"/>
<rect x="708" y="555" width="1" height="3" fill="#000"/>
<rect x="772" y="555" width="1" height="3" fill="#000"/>
<rect x="836" y="555" width="1" height="3" fill="#000"/>
<rect x="900" y="555" width="1" height="3" fill="#000"/>
<rect x="964" y="555" width="1" height="3" fill="#000"/>
<rect x="1028" y="555" width="1" height="3" fill="#000"/>
</g>
<text x="3.1" y="566.7" font-size="9.52" fill="#000" textLength="46.9" lengthAdjust="spacingAndGlyphs" stroke="#000" stroke-width="0.32">20 Jul 2018</text>
<text x="67.1" y="566.7" font-size="9.52" fill="#000" textLength="48.1" lengthAdjust="spacingAndGlyphs" stroke="#000" stroke-width="0.32">1 Aug 2018</text>
<text x="131.1" y="566.7" font-size="9.52" fill="#000" textLength="52.3" lengthAdjust="spacingAndGlyphs" stroke="#000" stroke-width="0.32">13 Aug 2018</text>
<text x="195.1" y="566.7" font-size="9.52" fill="#000" textLength="52.3" lengthAdjust="spacingAndGlyphs" stroke="#000" stroke-width="0.32">23 Aug 2018</text>
<text x="259.1" y="566.7" font-size="9.52" fill="#000" textLength="47.3" lengthAdjust="spacingAndGlyphs" stroke="#000" stroke-width="0.32">4 Sep 2018</text>
<text x="323.1" y="566.7" font-size="9.52" fill="#000" textLength="51.7" lengthAdjust="spacingAndGlyphs" stroke="#000" stroke-width="0.32">13 Sep 2018</text>
<text x="387.1" y="566.7" font-size="9.52" fill="#000" textLength="51.5" lengthAdjust="spacingAndGlyphs" stroke="#000" stroke-width="0.32">22 Sep 2018</text>
<text x="451.1" y="566.7" font-size="9.52" fill="#000" textLength="45.7" lengthAdjust="spacingAndGlyphs" stroke="#000" stroke-width="0.32">2 Oct 2018</text>
<text x="515.1" y="566.7" font-size="9.52" fill="#000" textLength="51.6" lengthAdjust="spacingAndGlyphs" stroke="#000" stroke-width="0.32">11 Oct 2018</text>
<text x="579.1" y="566.7" font-size="9.52" fill="#000" textLength="51.0" lengthAdjust="spacingAndGlyphs" stroke="#000" stroke-width="0.32">20 Oct 2018</text>
<text x="643.1" y="566.7" font-size="9.52" fill="#000" textLength="51.0" lengthAdjust="spacingAndGlyphs" stroke="#000" stroke-width="0.32">30 Oct 2018</text>
<text x="707.1" y="566.7" font-size="9.52" fill="#000" textLength="48.6" lengthAdjust="spacingAndGlyphs" stroke="#000" stroke-width="0.32">8 Nov 2018</text>
<text x="771.1" y="566.7" font-size="9.52" fill="#000" textLength="53.1" lengthAdjust="spacingAndGlyphs" stroke="#000" stroke-width="0.32">17 Nov 2018</text>
<text x="835.1" y="566.7" font-size="9.52" fill="#000" textLength="53.5" lengthAdjust="spacingAndGlyphs" stroke="#000" stroke-width="0.32">27 Nov 2018</text>
<text x="899.1" y="566.7" font-size="9.52" fill="#000" textLength="47.7" lengthAdjust="spacingAndGlyphs" stroke="#000" stroke-width="0.32">6 Dec 2018</text>
<text x="963.1" y="566.7" font-size="9.52" fill="#000" textLength="52.5" lengthAdjust="spacingAndGlyphs" stroke="#000" stroke-width="0.32">15 Dec 2018</text>
<text x="1027.1" y="566.7" font-size="9.52" fill="#000" textLength="52.3" lengthAdjust="spacingAndGlyphs" stroke="#000" stroke-width="0.32">25 Dec 2018</text>
<rect x="0" y="575" width="1349" height="1" fill="#e8e8e8"/>
<rect x="0" y="576" width="1349" height="27" fill="#f0f0f0"/>
<rect x="0" y="577" width="1349" height="1" fill="#000"/>
<rect x="0" y="597" width="1349" height="1" fill="#ffffff"/>
<rect x="0" y="601" width="1349" height="1" fill="#a0a0a0"/>
<rect x="0" y="602" width="1349" height="1" fill="#fafafa"/>
<rect x="0" y="577" width="1" height="20" fill="#696969"/>
<rect x="289" y="575" width="104" height="21" fill="#ffffff"/>
<rect x="289" y="577" width="1" height="19" fill="#000"/>
<rect x="392" y="577" width="1" height="19" fill="#000"/>
<rect x="289" y="595" width="104" height="1" fill="#000"/>
<text x="17.5" y="591.8" font-size="11.6" fill="#808080" textLength="67.2" lengthAdjust="spacingAndGlyphs">EURUSD,H4</text>
<text x="108.3" y="591.8" font-size="11.6" fill="#808080" textLength="81.4" lengthAdjust="spacingAndGlyphs">AUDUSD,Daily</text>
<text x="211.6" y="591.8" font-size="11.6" fill="#808080" textLength="66.2" lengthAdjust="spacingAndGlyphs">USDCHF,H4</text>
<text x="404.6" y="591.8" font-size="11.6" fill="#808080" textLength="80.0" lengthAdjust="spacingAndGlyphs">USDCNH,M30</text>
<text x="507.3" y="591.8" font-size="11.6" fill="#808080" textLength="62.2" lengthAdjust="spacingAndGlyphs">USDJPY,H4</text>
<text x="593" y="591.8" font-size="11.6" fill="#808080" textLength="71.4" lengthAdjust="spacingAndGlyphs">XAUUSD,M1</text>
<text x="688.5" y="591.8" font-size="11.6" fill="#808080" textLength="76.7" lengthAdjust="spacingAndGlyphs">GBPUSD,M15</text>
<text x="788.4" y="591.8" font-size="11.6" fill="#808080" textLength="53.4" lengthAdjust="spacingAndGlyphs">SP500,H1</text>
<text x="300.5" y="591.8" font-size="11.6" fill="#000" textLength="80.1" lengthAdjust="spacingAndGlyphs">USDCAD,Daily</text>
<rect x="97" y="580" width="1" height="14" fill="#808080"/>
<rect x="201" y="580" width="1" height="14" fill="#808080"/>
<rect x="497" y="580" width="1" height="14" fill="#808080"/>
<rect x="581" y="580" width="1" height="14" fill="#808080"/>
<rect x="677" y="580" width="1" height="14" fill="#808080"/>
<rect x="777" y="580" width="1" height="14" fill="#808080"/>
<rect x="853" y="580" width="1" height="14" fill="#808080"/>
<path d="M1323.4 583 L1323.4 589.4 L1319.8 586.2Z" fill="#909090"/>
<path d="M1339 583 L1339 589.4 L1342.6 586.2Z" fill="#909090"/>
</svg>
</body></html>
